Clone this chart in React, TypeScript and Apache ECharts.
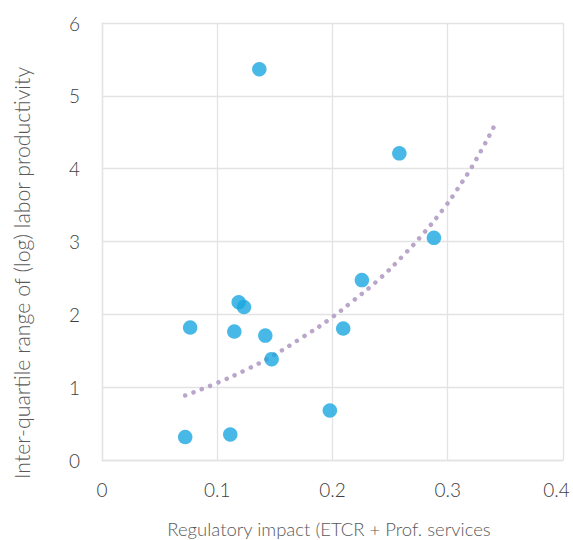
import React, { useEffect, useRef } from "react";
import * as echarts from "echarts";

// Scatter observations: [regulatory impact, inter-quartile range]
const pointsX = [0.1365, 0.258, 0.288, 0.2255, 0.1186, 0.1232, 0.0765, 0.1148, 0.1417, 0.2093, 0.1472, 0.1977, 0.0722, 0.1113];
const pointsY = [5.365, 4.21, 3.05, 2.47, 2.166, 2.1, 1.818, 1.763, 1.708, 1.805, 1.385, 0.68, 0.315, 0.351];

// Trend line (exponential fit)
const trendX = [0.0722, 0.098, 0.1238, 0.149, 0.1728, 0.1963, 0.2185, 0.2403, 0.2603, 0.2794, 0.2973, 0.308, 0.3232, 0.3412];
const trendY = [0.886, 1.046, 1.229, 1.44, 1.673, 1.92, 2.194, 2.48, 2.79, 3.12, 3.47, 3.71, 4.086, 4.611];

const xTitle = "Regulatory impact (ETCR + Prof. services";
const yTitle = "Inter-quartile range of (log) labor productivity";

const FONT = "Lato, 'Noto Sans', sans-serif";

export default function App() {
  const ref = useRef<HTMLDivElement>(null);
  useEffect(() => {
    document.body.style.margin = "0";
    const chart = echarts.init(ref.current!, null, { renderer: "svg" });
    chart.setOption({
      animation: false,
      backgroundColor: "#ffffff",
      grid: { left: 102, right: 10, top: 23, bottom: 80 },
      xAxis: {
        type: "value",
        min: 0,
        max: 0.4,
        interval: 0.1,
        axisLine: { show: true, lineStyle: { color: "#e3e3e3", width: 1.3 } },
        axisTick: { show: false },
        splitLine: { show: true, lineStyle: { color: "#e3e3e3", width: 1.3 } },
        axisLabel: {
          color: "#404040",
          fontFamily: FONT,
          fontWeight: 300,
          fontSize: 19,
          margin: 20,
          formatter: (v: number) => (v >= 0.4 ? "{r|" + String(Math.round(v * 10) / 10) + "}" : String(Math.round(v * 10) / 10)),
          rich: { r: { color: "#404040", fontFamily: FONT, fontWeight: 300, fontSize: 19, padding: [0, 13, 0, 0] } },
        },
      },
      yAxis: {
        type: "value",
        min: 0,
        max: 6,
        interval: 1,
        axisLine: { show: true, lineStyle: { color: "#e3e3e3", width: 1.3 } },
        axisTick: { show: false },
        splitLine: { show: true, lineStyle: { color: "#e3e3e3", width: 1.3 } },
        axisLabel: {
          color: "#404040",
          fontFamily: FONT,
          fontWeight: 300,
          fontSize: 19,
          margin: 22,
        },
      },
      graphic: [
        {
          type: "text",
          x: 329,
          y: 529,
          style: {
            text: xTitle,
            fill: "#595959",
            font: "300 18.5px " + FONT,
            align: "center",
            verticalAlign: "middle",
          },
        },
        {
          type: "text",
          x: 22,
          y: 273,
          rotation: Math.PI / 2,
          style: {
            text: yTitle,
            fill: "#595959",
            font: "300 21.3px " + FONT,
            align: "center",
            verticalAlign: "middle",
          },
        },
      ],
      series: [
        {
          type: "line",
          data: trendX.map((x, i) => [x, trendY[i]]),
          smooth: true,
          showSymbol: false,
          symbol: "none",
          lineStyle: { color: "#b9a6ca", width: 4.5, type: [0.1, 8.8], cap: "round" },
          z: 1,
        },
        {
          type: "scatter",
          data: pointsX.map((x, i) => [x, pointsY[i]]),
          symbol: "circle",
          symbolSize: 14.5,
          itemStyle: { color: "#1aa6e0" },
          z: 2,
        },
      ],
    });
    return () => chart.dispose();
  }, []);
  return <div ref={ref} style={{ width: 573, height: 540, position: "absolute", left: 0, top: 0 }} />;
}
